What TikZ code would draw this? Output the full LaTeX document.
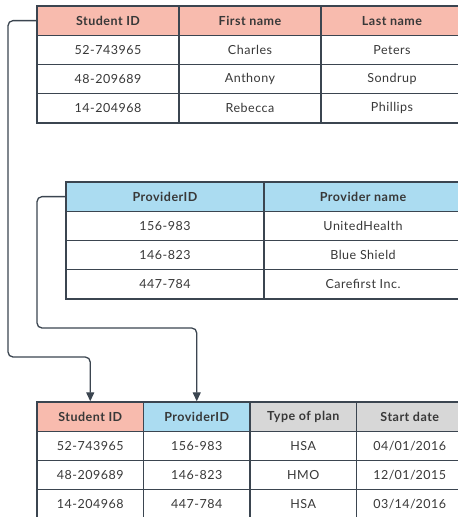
\documentclass[tikz,border=0pt]{standalone}
\usepackage{fontspec}
\setmainfont{Lato}[LetterSpace=4]
\usetikzlibrary{arrows.meta}
\definecolor{edgegray}{HTML}{3B4550}
\definecolor{textgray}{HTML}{383838}
\definecolor{salmon}{HTML}{F8BBAE}
\definecolor{skyblue}{HTML}{ABDCF1}
\definecolor{lightgray}{HTML}{D7D7D7}
\tikzset{
  cell/.style={draw=edgegray, line width=1.4pt, fill=white, inner sep=0pt,
    text=textgray, font=\fontsize{12.5}{14}\selectfont, minimum height=29.25pt},
  headcell/.style={cell, font=\fontsize{12.5}{14}\selectfont\bfseries},
  link/.style={draw=edgegray, line width=1.3pt, rounded corners=5pt,
    -{Triangle[length=9pt,width=8pt]}},
}
\begin{document}
\begin{tikzpicture}[x=1pt,y=-1pt]%
%
\useasboundingbox (0,0) rectangle (458,517);
\clip (0,0) rectangle (458,517);
\def\rowH{29.25}
%
% students
\def\stuW{142}
\foreach \c/\txt in {1/Student ID,2/First name,3/Last name}
  \node[headcell, fill=salmon, minimum width=\stuW pt] (stu-0-\c) at ({37+(\c-0.5)*\stuW},{6+0.5*\rowH}) {\txt};
\foreach \r/\a/\b/\cc in {1/52-743965/Charles/Peters,2/48-209689/Anthony/Sondrup,3/14-204968/Rebecca/Phillips}
{ \node[cell, minimum width=\stuW pt] (stu-\r-1) at ({37+0.5*\stuW},{6+(\r+0.5)*\rowH}) {\a};
  \node[cell, minimum width=\stuW pt] (stu-\r-2) at ({37+1.5*\stuW},{6+(\r+0.5)*\rowH}) {\b};
  \node[cell, minimum width=\stuW pt] (stu-\r-3) at ({37+2.5*\stuW},{6+(\r+0.5)*\rowH}) {\cc}; }
%
% providers
\def\provW{198}
\foreach \c/\txt in {1/ProviderID,2/Provider name}
  \node[headcell, fill=skyblue, minimum width=\provW pt] (prov-0-\c) at ({66+(\c-0.5)*\provW},{182+0.5*\rowH}) {\txt};
\foreach \r/\a/\b in {1/156-983/UnitedHealth,2/146-823/Blue Shield,3/447-784/Carefirst Inc.}
{ \node[cell, minimum width=\provW pt] (prov-\r-1) at ({66+0.5*\provW},{182+(\r+0.5)*\rowH}) {\a};
  \node[cell, minimum width=\provW pt] (prov-\r-2) at ({66+1.5*\provW},{182+(\r+0.5)*\rowH}) {\b}; }
%
% plans
\def\planW{106.5}
\foreach \c/\txt/\col in {1/Student ID/salmon,2/ProviderID/skyblue,3/Type of plan/lightgray,4/Start date/lightgray}
  \node[headcell, fill=\col, minimum width=\planW pt] (plan-0-\c) at ({37+(\c-0.5)*\planW},{402+0.5*\rowH}) {\txt};
\foreach \r/\a/\b/\cc/\d in {1/52-743965/156-983/HSA/04\slash 01\slash 2016,2/48-209689/146-823/HMO/12\slash 01\slash 2015,3/14-204968/447-784/HSA/03\slash 14\slash 2016}
{ \node[cell, minimum width=\planW pt] (plan-\r-1) at ({37+0.5*\planW},{402+(\r+0.5)*\rowH}) {\a};
  \node[cell, minimum width=\planW pt] (plan-\r-2) at ({37+1.5*\planW},{402+(\r+0.5)*\rowH}) {\b};
  \node[cell, minimum width=\planW pt] (plan-\r-3) at ({37+2.5*\planW},{402+(\r+0.5)*\rowH}) {\cc};
  \node[cell, minimum width=\planW pt] (plan-\r-4) at ({37+3.5*\planW},{402+(\r+0.5)*\rowH}) {\d}; }
%
% keys
\coordinate (stuBend) at (8,357);
\coordinate (provBend) at (37,328);
\draw[link] (stu-0-1.west) -| (stuBend) -| (plan-0-1.north);
\draw[link] (prov-0-1.west) -| (provBend) -| (plan-0-2.north);
%
\end{tikzpicture}
\end{document}
